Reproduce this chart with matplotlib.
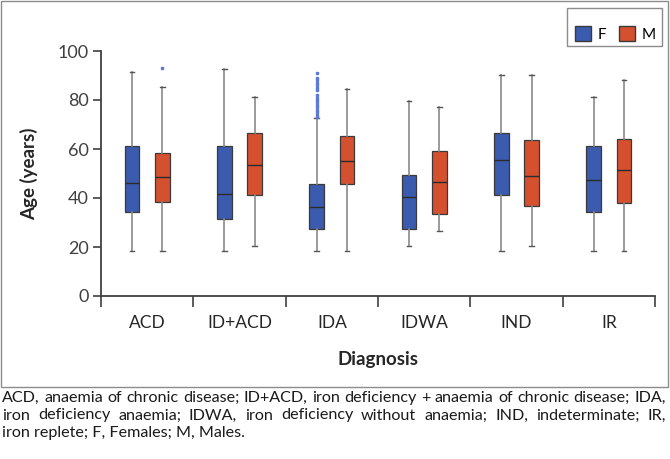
import matplotlib
matplotlib.use("Agg")
import matplotlib.pyplot as plt
from matplotlib.patches import Rectangle, Patch

plt.rcParams['font.family'] = ['Lato', 'DejaVu Sans']

categories = ["ACD", "ID+ACD", "IDA", "IDWA", "IND", "IR"]
# Females: whislo, q1, median, q3, whishi
f_whislo = [18.5, 18.5, 18.5, 20.5, 18.5, 18.5]
f_q1     = [34.4, 31.4, 27.5, 27.5, 41.4, 34.1]
f_med    = [46.3, 41.5, 36.5, 40.4, 55.4, 47.5]
f_q3     = [61.2, 61.2, 45.6, 49.5, 66.4, 61.4]
f_whishi = [91.6, 92.5, 72.5, 79.5, 90.2, 81.4]
f_fliers = [[], [], [73, 74, 75, 76, 77, 78, 79, 80, 81, 82, 84, 85, 86, 87, 88, 89, 91], [], [], []]
# Males
m_whislo = [18.5, 20.5, 18.5, 26.5, 20.5, 18.5]
m_q1     = [38.5, 41.4, 45.7, 33.5, 36.9, 38.1]
m_med    = [48.6, 53.6, 55.2, 46.5, 49.1, 51.3]
m_q3     = [58.2, 66.4, 65.2, 59.3, 63.8, 63.9]
m_whishi = [85.4, 81.4, 84.5, 77.3, 90.2, 88.3]
m_fliers = [[93.2], [], [], [], [], []]

series_labels = ["F", "M"]
y_ticks = [0, 20, 40, 60, 80, 100]

caption_lines = [
    "ACD, anaemia of chronic disease; ID+ACD, iron deficiency + anaemia of chronic disease; IDA,",
    "iron deficiency anaemia; IDWA, iron deficiency without anaemia; IND, indeterminate; IR,",
    "iron replete; F, Females; M, Males.",
]

BLUE = "#3A5BAE"
RED = "#D4502F"
DARK = "#404040"
GREY = "#8a8a8a"

fig = plt.figure(figsize=(6.7, 4.59), dpi=100)
W, H = 670, 459

# outer frame around chart area
fig.patches.append(Rectangle((1 / W, 1 - 387 / H), 667 / W, 386 / H, transform=fig.transFigure,
                             fill=False, edgecolor="#8c8c8c", linewidth=1.0))

ax = fig.add_axes([101 / W, 1 - 296 / H, 554 / W, 245 / H])

def make_stats(lo, q1, med, q3, hi, fl):
    out = []
    for i in range(len(lo)):
        out.append(dict(whislo=lo[i], q1=q1[i], med=med[i], q3=q3[i], whishi=hi[i], fliers=fl[i]))
    return out

off = 0.165
bw = 0.157
pos = list(range(1, len(categories) + 1))
for stats, color, sign in [
    (make_stats(f_whislo, f_q1, f_med, f_q3, f_whishi, f_fliers), BLUE, -1),
    (make_stats(m_whislo, m_q1, m_med, m_q3, m_whishi, m_fliers), RED, 1),
]:
    ax.bxp(stats, positions=[p + sign * off for p in pos], widths=bw, patch_artist=True,
           showfliers=True, capwidths=0.05,
           boxprops=dict(facecolor=color, edgecolor="#3a3a3a", linewidth=0.9),
           medianprops=dict(color="#2b2b2b", linewidth=1.0),
           whiskerprops=dict(color=GREY, linewidth=1.2),
           capprops=dict(color="#555555", linewidth=1.0),
           flierprops=dict(marker="s", markersize=1.8, markerfacecolor="#5b7ad6",
                           markeredgecolor="#5b7ad6", linestyle="none"))

ax.set_xlim(0.5, len(categories) + 0.5)
ax.set_ylim(0, 100)
ax.set_yticks(y_ticks)
ax.set_yticklabels([str(t) for t in y_ticks])
ax.set_xticks([p + 0.5 for p in range(0, len(categories) + 1)])
ax.set_xticklabels([])
ax.set_xticks(pos, minor=True)
ax.set_xticklabels(categories, minor=True)
ax.tick_params(axis="x", which="major", direction="out", length=8, width=1.2, color=DARK)
ax.tick_params(axis="x", which="minor", length=0, pad=14, labelsize=12.5, labelcolor="#262626")
ax.tick_params(axis="y", direction="out", length=6, width=1.2, color=DARK, labelsize=13,
               labelcolor="#404040", pad=3)
for s in ["top", "right"]:
    ax.spines[s].set_visible(False)
for s in ["left", "bottom"]:
    ax.spines[s].set_color(DARK)
    ax.spines[s].set_linewidth(1.3)

ax.set_ylabel("Age (years)", fontsize=13.5, fontweight="bold", color="#262626", labelpad=14)
ax.set_xlabel("Diagnosis", fontsize=13.5, fontweight="bold", color="#262626", labelpad=14)

# legend: frame drawn as a rectangle, entries via legend
fig.patches.append(Rectangle((567 / W, 1 - 46 / H), 95 / W, 38 / H, transform=fig.transFigure,
                             fill=False, edgecolor="#8c8c8c", linewidth=1.0))
handles = [Patch(facecolor=BLUE, edgecolor="#3a3a3a", label=series_labels[0]),
           Patch(facecolor=RED, edgecolor="#3a3a3a", label=series_labels[1])]
leg = fig.legend(handles=handles, loc="center left", bbox_to_anchor=(575 / W, 1 - 34 / H), ncol=2,
                 frameon=False, fontsize=11, handlelength=1.05, handleheight=1.05,
                 handletextpad=0.45, columnspacing=0.8, borderpad=0, borderaxespad=0)

# justified caption
renderer = fig.canvas.get_renderer()
left_px, right_px = 2, 666
cap_y = [398, 415.5, 433]
cap_fs = 11.6
for i, line in enumerate(caption_lines):
    words = line.split(" ")
    y = 1 - cap_y[i] / H
    if i == len(caption_lines) - 1:
        fig.text(left_px / W, y, line, fontsize=cap_fs, color="#1a1a1a", va="center", ha="left")
        continue
    texts = [fig.text(0, y, w, fontsize=cap_fs, color="#1a1a1a", va="center", ha="left") for w in words]
    widths = [t.get_window_extent(renderer=renderer).width for t in texts]
    gap = (right_px - left_px - sum(widths)) / (len(words) - 1)
    x = left_px
    for t, w in zip(texts, widths):
        t.set_x(x / W)
        x += w + gap

fig.savefig("out.png", dpi=100)
